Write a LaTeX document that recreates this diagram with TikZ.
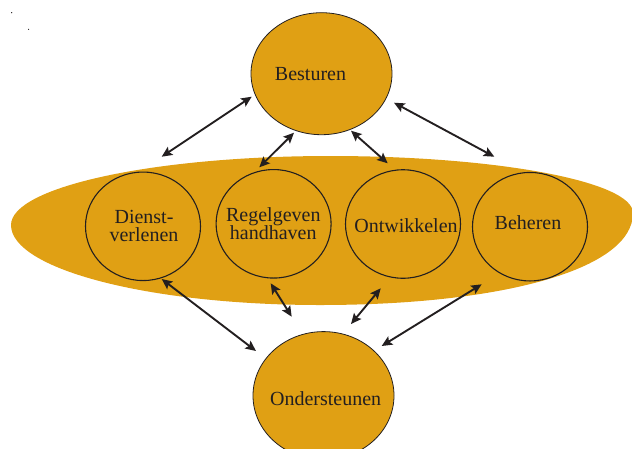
\documentclass[tikz,border=0pt]{standalone}
\usepackage{fontspec}
\setmainfont{Liberation Serif}
\usetikzlibrary{shapes.geometric,arrows.meta}
\definecolor{GoldFill}{HTML}{E0A014}
\definecolor{InkDark}{HTML}{231F20}
\tikzset{
  GE/.style={ellipse,fill=GoldFill,draw=InkDark,line width=0.8pt,inner sep=0pt},
  GO/.style={GE,minimum width=141pt,minimum height=122pt},
  GI/.style={GE,line width=1.1pt,minimum width=115pt,minimum height=108.5pt},
  TX/.style={inner sep=0pt,align=center,text=InkDark,
             font=\fontsize{20}{18.6}\selectfont},
  arr/.style={{Stealth[length=10.5pt,width=9.5pt,inset=2pt]}-{Stealth[length=10.5pt,width=9.5pt,inset=2pt]},
              line width=1.9pt,draw=InkDark}
}

\begin{document}
\begin{tikzpicture}[x=1pt,y=-1pt]
  \useasboundingbox (0,0) rectangle (632,448);

  % stray marks
  \fill[InkDark] (11.7,12.7) circle (0.7);
  \fill[InkDark] (28.6,29.3) circle (0.6);

  % big band
  \fill[GoldFill] (11,225) .. controls (11,186.9) and (153.8,156) .. (330,156)
    .. controls (497.3,156) and (633,181.5) .. (633,213)
    .. controls (633,270) and (500,305) .. (320,305)
    .. controls (149.3,305) and (11,269.2) .. (11,225) -- cycle;

  \node[GI] (dv) at (143,226.3) {};
  \node[GI] (rh) at (273.6,223.8) {};
  \node[GI] (ow) at (403,224) {};
  \node[GI] (bh) at (530,226.7) {};
  \node[GO] (bes) at (321.5,73.7) {};
  \node[GO,minimum height=128pt] (ond) at (323.5,395.6) {};

  \node[TX] (besL) at (310.5,74.2) {Besturen};
  \node[TX] (dvL) at (144,226) {Dienst-\\verlenen};
  \node[TX] (rhL) at (273.3,223.7) {Regelgeven\\handhaven};
  \node[TX] (owL) at (406,225.9) {Ontwikkelen};
  \node[TX] (bhL) at (528,222.2) {Beheren};
  \node[TX] (ondL) at (325.6,398.2) {Ondersteunen};

  % arrow ends
  \coordinate (bes-a) at (251.7,96.7);
  \coordinate (bes-b) at (294,132.7);
  \coordinate (bes-c) at (351,130.7);
  \coordinate (bes-d) at (394,102.7);
  \coordinate (up-a) at (161.7,156.7);
  \coordinate (up-b) at (259.3,167.3);
  \coordinate (up-c) at (387.7,163.3);
  \coordinate (up-d) at (494.3,156.7);
  \coordinate (low-a) at (161.7,279);
  \coordinate (low-b) at (270.7,283.3);
  \coordinate (low-c) at (380.7,288.3);
  \coordinate (low-d) at (481.7,284.3);
  \coordinate (ond-a) at (256,351);
  \coordinate (ond-b) at (291.7,316.7);
  \coordinate (ond-c) at (351,324);
  \coordinate (ond-d) at (381.7,346);

  \draw[arr](bes-a)--(up-a);
  \draw[arr](bes-b)--(up-b);
  \draw[arr](bes-c)--(up-c);
  \draw[arr](bes-d)--(up-d);
  \draw[arr](low-a)--(ond-a);
  \draw[arr](low-b)--(ond-b);
  \draw[arr](low-c)--(ond-c);
  \draw[arr](low-d)--(ond-d);
\end{tikzpicture}
\end{document}
